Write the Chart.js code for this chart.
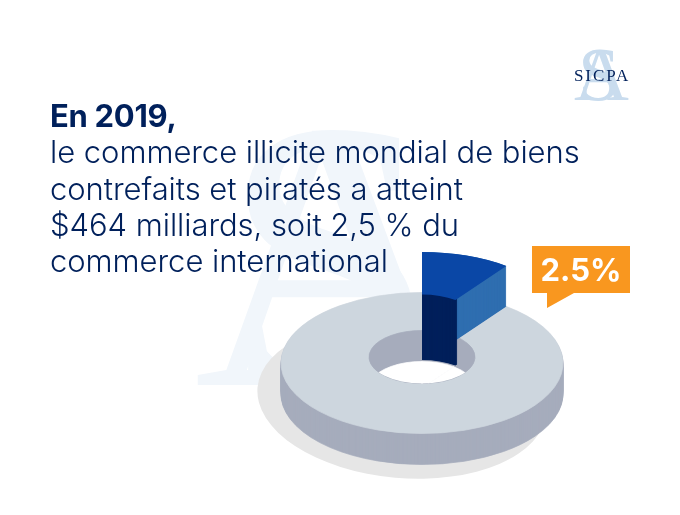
<!DOCTYPE html>
<html>
<head>
<meta charset="utf-8">
<script src="https://cdn.jsdelivr.net/npm/chart.js@4"></script>
<style>
html, body { margin: 0; padding: 0; background: #fff; }
#page { position: relative; width: 680px; height: 515px; overflow: hidden; font-family: Inter, "Liberation Sans", sans-serif; }
#page > * { position: absolute; }
#shadow { left: 257px; top: 322px; width: 290px; height: 156px; border-radius: 50%; background: #e6e6e6; transform: rotate(5deg); }
canvas { left: 0; top: 0; }
.mark { font-family: "Liberation Serif", serif; line-height: 1; white-space: nowrap; }
#bigS, #bigA { color: #f1f6fb; font-size: 385px; }
#bigS { left: 222px; top: 63px; }
#bigA { left: 194px; top: 63px; }
#smallS, #smallA { color: #c9dcee; font-size: 76px; }
#smallS { left: 578px; top: 36px; }
#smallA { left: 574px; top: 36px; }
#brand { left: 574px; top: 67px; font-size: 17px; color: #00205b; letter-spacing: 1.9px; }
#title { left: 50px; top: 98px; color: #00205b; font-size: 31px; line-height: 36.3px; font-weight: 300; letter-spacing: -0.05px; white-space: pre; }
#title b { font-weight: 700; letter-spacing: -0.3px; }
#callout { left: 532px; top: 246px; width: 98px; height: 62px; background: #f9971f; clip-path: polygon(0 0, 100% 0, 100% 47px, 42px 47px, 15px 62px, 15px 47px, 0 47px); }
#calloutText { left: 532px; top: 246px; width: 98px; height: 47px; line-height: 47px; text-align: center; color: #fff; font-size: 31px; font-weight: 700; }
</style>
</head>
<body>
<div id="page">
  <div class="mark" id="bigS">S</div>
  <div class="mark" id="bigA">A</div>
  <div id="shadow"></div>
  <canvas id="pieCanvas" width="680" height="515"></canvas>
  <div id="title"><b>En 2019,</b>
le commerce illicite mondial de biens
contrefaits et piratés a atteint
$464 milliards, soit 2,5 % du
commerce international</div>
  <div id="callout"></div>
  <div id="calloutText"></div>
  <div class="mark" id="smallS">S</div>
  <div class="mark" id="smallA">A</div>
  <div class="mark" id="brand">SICPA</div>
</div>
<script>
var categories = ["Commerce illicite", "Reste du commerce"];
// the wedge is drawn oversized in the picture, it is not to scale with its 2.5% label
var sliceValues = [10.2, 89.8];
var calloutLabel = "2.5%";

var squash = 0.5;
var discDepth = 31;
var holeShift = -6;
var wedgeLift = -40.5;
var wedgeFloor = 25;

var topColour = "#cdd6de";
var wallColour = "#a6acbc";
var wedgeTop = "#0a47a6";
var wedgeSide = "#2f6eb0";
var wedgeInner = "#00205b";

document.getElementById("calloutText").textContent = calloutLabel;

function paint(ctx, arc, dy, inner, outer, colour, border) {
    var saved = [arc.y, arc.innerRadius, arc.outerRadius, arc.options];
    arc.y = saved[0] + dy / squash;
    arc.innerRadius = inner;
    arc.outerRadius = outer;
    arc.options = {backgroundColor: colour, borderColor: colour, borderWidth: border || 0,
        borderRadius: 0, spacing: 0, offset: 0, circular: true, borderAlign: "center"};
    arc.draw(ctx);
    arc.y = saved[0];
    arc.innerRadius = saved[1];
    arc.outerRadius = saved[2];
    arc.options = saved[3];
}

// doughnut is laid flat and given some depth, the library still gives the arcs
var extrude = {
    id: "extrude",
    beforeDatasetsDraw: function(chart) {
        var ctx = chart.ctx;
        var arcs = chart.getDatasetMeta(0).data;
        var wedge = arcs[0];
        var cy = wedge.y, R = wedge.outerRadius, hole = wedge.innerRadius;
        var wedgeHole = hole + 3, d;

        ctx.save();
        ctx.translate(0, cy);
        ctx.scale(1, squash);
        ctx.translate(0, -cy);

        for (d = discDepth; d > 0; d--) {
            arcs.forEach(function(a) { paint(ctx, a, d, 0, R, wallColour, 1); });
        }
        arcs.forEach(function(a) { paint(ctx, a, 0, 0, R, topColour, 1); });
        arcs.forEach(function(a) { paint(ctx, a, holeShift, 0, hole, wallColour, 1); });

        ctx.save();
        ctx.beginPath();
        ctx.arc(wedge.x, cy + holeShift / squash, hole, 0, Math.PI * 2);
        ctx.clip();
        arcs.forEach(function(a) { paint(ctx, a, holeShift + discDepth, 0, hole, "#ffffff", 1); });
        ctx.restore();

        for (d = 0; d >= wedgeLift; d -= 0.5) {
            paint(ctx, wedge, d, wedgeHole, R, wedgeSide);
        }
        for (d = wedgeFloor; d >= wedgeLift; d -= 0.5) {
            paint(ctx, wedge, d, wedgeHole, wedgeHole + 3, wedgeInner);
        }
        paint(ctx, wedge, wedgeLift, wedgeHole, R, wedgeTop);

        ctx.restore();
        return false;
    }
};

var pieconfig = {
    type: "doughnut",
    data: {
        labels: categories,
        datasets: [{
            data: sliceValues,
            backgroundColor: [wedgeTop, topColour],
            borderWidth: 0,
            hoverOffset: 0
        }]
    },
    options: {
        responsive: false,
        animation: false,
        cutout: "37.6%",
        layout: {padding: {left: 281, right: 117, top: 222, bottom: 11}},
        plugins: {legend: {display: false}, tooltip: {enabled: false}}
    },
    plugins: [extrude]
};

var piectx = document.getElementById("pieCanvas").getContext("2d");
var piechart = new Chart(piectx, pieconfig);
</script>
</body>
</html>
